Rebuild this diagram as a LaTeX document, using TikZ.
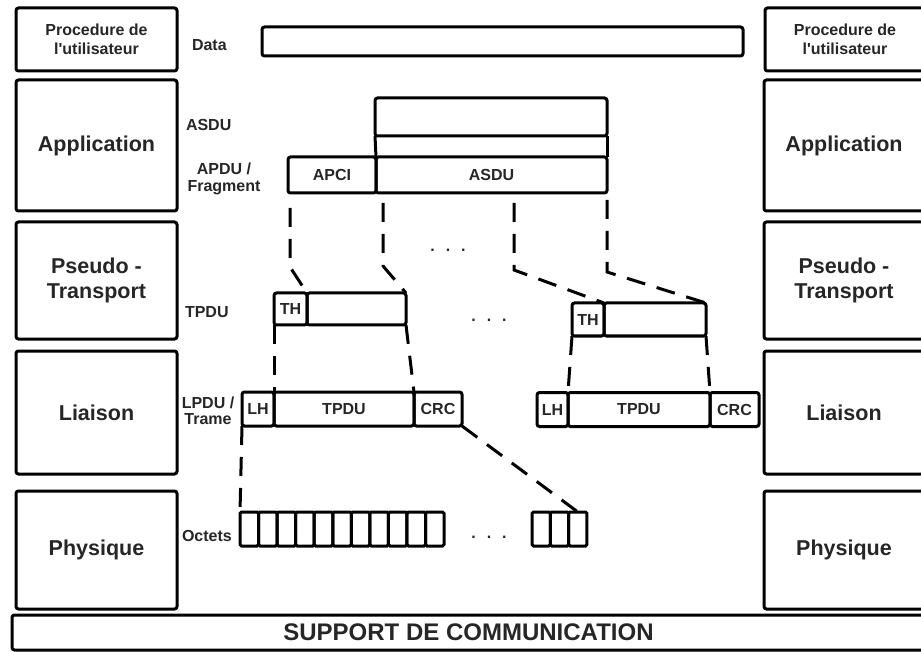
\documentclass[tikz,border=0pt]{standalone}
\usepackage{fontspec}
\setmainfont{Liberation Sans}[Ligatures=TeXOff]
\begin{document}
\begin{tikzpicture}[x=1pt,y=-1pt,
  box/.style={draw, line width=3pt, rounded corners=2.5pt, inner sep=0pt, outer sep=0pt, text=black!85},
  layer/.style={box, minimum width=161pt, align=center, font=\fontsize{21.5}{25}\selectfont\bfseries},
  rlayer/.style={layer, minimum width=160pt},
  cell/.style={box, font=\fontsize{16}{17}\selectfont\bfseries},
  lbl/.style={inner sep=0pt, outer sep=0pt, text=black!85, font=\fontsize{16}{17}\selectfont\bfseries},
  dotsn/.style={inner sep=0pt, text=black!85, font=\fontsize{16}{17}\selectfont\bfseries},
  octet/.style={draw, line width=3pt, rounded corners=1.5pt, inner sep=0pt, outer sep=0pt, minimum height=34pt},
  dline/.style={line width=3pt, dash pattern=on 19pt off 12pt},
  sline/.style={line width=3pt}]
\useasboundingbox (0,0) rectangle (921,652);
\clip (0,0) rectangle (921,652);

% layer boxes left
\node[layer, minimum height=63pt, font=\fontsize{16}{19}\selectfont\bfseries] (procL) at (96.5,39.5) {Procedure de\\l'utilisateur};
\node[layer, minimum height=131pt] (appL) at (96.5,145.5) {Application};
\node[layer, minimum height=117pt] (ptL) at (96.5,280.5) {Pseudo -\\Transport};
\node[layer, minimum height=123pt] (liaL) at (96.5,412.5) {Liaison};
\node[layer, minimum height=118pt] (phyL) at (96.5,550) {Physique};
% layer boxes right
\node[rlayer, minimum height=63pt, font=\fontsize{16}{19}\selectfont\bfseries] (procR) at (845,39.5) {Procedure de\\l'utilisateur};
\node[rlayer, minimum height=131pt] (appR) at (844,145.5) {Application};
\node[rlayer, minimum height=117pt] (ptR) at (844,280.5) {Pseudo -\\Transport};
\node[rlayer, minimum height=123pt] (liaR) at (844,412.5) {Liaison};
\node[rlayer, minimum height=118pt] (phyR) at (844,550) {Physique};
% support
\node[box, minimum width=913pt, minimum height=35pt, font=\fontsize{24}{26}\selectfont\bfseries] (supp) at (468.5,632.5) {SUPPORT DE COMMUNICATION};

% labels
\node[lbl, anchor=west] (ldata) at (192,45) {Data};
\node[lbl, anchor=west] (lasdu) at (186,125) {ASDU};
\node[lbl, align=center] (lapdu) at (224,179) {APDU /\\Fragment};
\node[lbl, anchor=west] (ltpdu) at (185,312) {TPDU};
\node[lbl, align=center, font=\fontsize{16}{16}\selectfont\bfseries] (llpdu) at (208,411) {LPDU /\\Trame};
\node[lbl, anchor=west] (loct) at (182,536) {Octets};

% data / application
\node[box, minimum width=481pt, minimum height=29pt] (data) at (502.5,41.5) {};
\node[box, minimum width=232pt, minimum height=38pt] (asdutop) at (491,117) {};
\node[cell, minimum width=88pt, minimum height=36pt] (apci) at (332,175) {APCI};
\node[cell, minimum width=231pt, minimum height=36pt] (asdu) at (491.5,175) {ASDU};
\draw[sline] (asdutop.south west) -- (asdu.north west);
\draw[sline] (asdutop.south east) -- (asdu.north east);

% TPDUs
\node[cell, minimum width=33pt, minimum height=32pt] (th1) at (290.5,309) {TH};
\node[cell, minimum width=99pt, minimum height=32pt] (tb1) at (356.5,309) {};
\node[cell, minimum width=32pt, minimum height=33pt] (th2) at (588,319.5) {TH};
\node[cell, minimum width=102pt, minimum height=33pt] (tb2) at (655,319.5) {};

% LPDUs
\node[cell, minimum width=32pt, minimum height=34pt] (lh1) at (258,409) {LH};
\node[cell, minimum width=140pt, minimum height=34pt] (tp1) at (344,409) {TPDU};
\node[cell, minimum width=48pt, minimum height=34pt] (crc1) at (438,409) {CRC};
\node[cell, minimum width=31pt, minimum height=34pt] (lh2) at (552.5,409.5) {LH};
\node[cell, minimum width=142pt, minimum height=34pt] (tp2) at (639,409.5) {TPDU};
\node[cell, minimum width=49pt, minimum height=34pt] (crc2) at (734.5,409.5) {CRC};

% octets
\foreach \i in {1,...,11} \node[octet, minimum width=18.55pt] (o\i) at ({240+18.55*(\i-0.5)},529) {};
\foreach \i in {1,2,3} \node[octet, minimum width=18.33pt] (r\i) at ({532+18.33*(\i-0.5)},529) {};

% dots
\node[dotsn] (dots1) at (448,250) {.\hspace{11pt}.\hspace{11pt}.};
\node[dotsn] (dots2) at (489,320) {.\hspace{11pt}.\hspace{11pt}.};
\node[dotsn] (dots3) at (489,537) {.\hspace{11pt}.\hspace{11pt}.};

% dashed mapping lines
\coordinate (d1a) at (290,208); \coordinate (d1b) at (290,267);
\coordinate (d2a) at (383,203); \coordinate (d2b) at (383,266);
\coordinate (d3a) at (514,203); \coordinate (d3b) at (514,270);
\coordinate (d4a) at (607,200); \coordinate (d4b) at (607,272);
\draw[dline] (d1a) -- (d1b) -- (th1.north east);
\draw[dline] (d2a) -- (d2b) -- (tb1.north east);
\draw[dline] (d3a) -- (d3b) -- (th2.north east);
\draw[dline] (d4a) -- (d4b) -- (tb2.north east);
\draw[dline] (th1.south west) -- (tp1.north west);
\draw[dline] (tb1.south east) -- (tp1.north east);
\draw[dline] (th2.south west) -- (tp2.north west);
\draw[dline] (tb2.south east) -- (tp2.north east);
\draw[dline] (lh1.south west) -- (o1.north west);
\draw[dline] (crc1.south east) -- (r3.north);
\end{tikzpicture}
\end{document}
